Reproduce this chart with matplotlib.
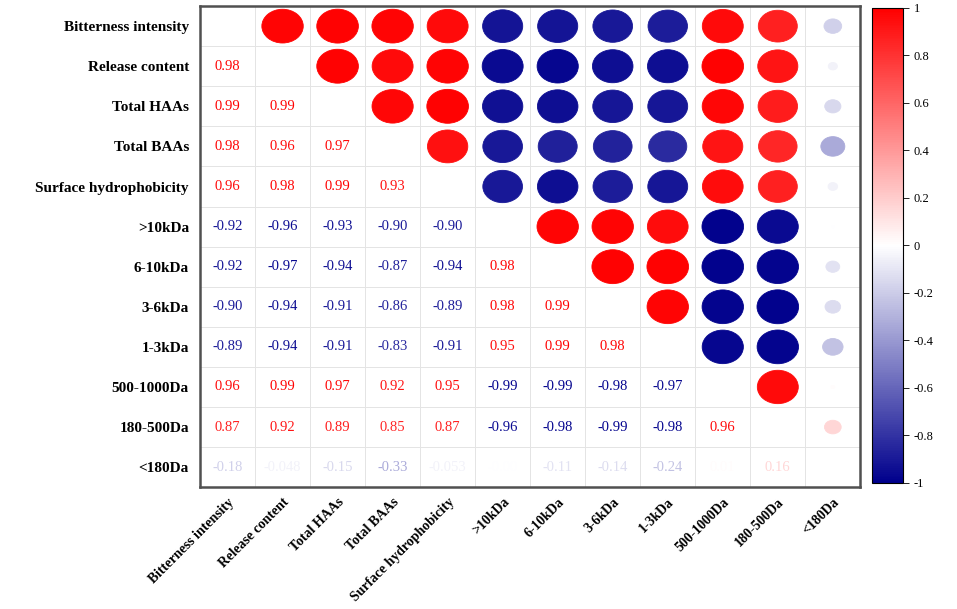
import numpy as np
import matplotlib.pyplot as plt
from matplotlib.colors import LinearSegmentedColormap, Normalize
from matplotlib.patches import Ellipse
from matplotlib.colorbar import ColorbarBase

plt.rcParams['font.family'] = ['Liberation Serif', 'DejaVu Serif']

labels = ['Bitterness intensity', 'Release content', 'Total HAAs', 'Total BAAs',
          'Surface hydrophobicity', '>10kDa', '6-10kDa', '3-6kDa', '1-3kDa',
          '500-1000Da', '180-500Da', '<180Da']

# lower triangle of the correlation matrix, row by row
lower = [
    [],
    [0.98],
    [0.99, 0.99],
    [0.98, 0.96, 0.97],
    [0.96, 0.98, 0.99, 0.93],
    [-0.92, -0.96, -0.93, -0.90, -0.90],
    [-0.92, -0.97, -0.94, -0.87, -0.94, 0.98],
    [-0.90, -0.94, -0.91, -0.86, -0.89, 0.98, 0.99],
    [-0.89, -0.94, -0.91, -0.83, -0.91, 0.95, 0.99, 0.98],
    [0.96, 0.99, 0.97, 0.92, 0.95, -0.99, -0.99, -0.98, -0.97],
    [0.87, 0.92, 0.89, 0.85, 0.87, -0.96, -0.98, -0.99, -0.98, 0.96],
    [-0.18, -0.048, -0.15, -0.33, -0.053, -0.004, -0.11, -0.14, -0.24, 0.008, 0.16],
]

n = len(labels)
corr = np.eye(n)
for i, row in enumerate(lower):
    for j, v in enumerate(row):
        corr[i, j] = v
        corr[j, i] = v

cmap = LinearSegmentedColormap.from_list('bwr2', ['#00008c', '#ffffff', '#ff0000'])
norm = Normalize(-1, 1)

fig = plt.figure(figsize=(9.57, 6.09), dpi=100)
ax = fig.add_axes([0.209, 0.200, 0.690, 0.790])

for i in range(n):
    for j in range(n):
        if i == j:
            continue
        r = corr[i, j]
        c = cmap(norm(r))
        if j > i:
            s = np.sqrt(abs(r))
            e = Ellipse((j, i), width=0.76 * s, height=0.85 * s,
                        facecolor=c, edgecolor=c, lw=0.6)
            ax.add_patch(e)
        else:
            txt = f'{r:.3f}' if 0.01 <= abs(r) < 0.06 else f'{r:.2f}'
            ax.text(j, i, txt, ha='center', va='center', fontsize=10.5, color=c)

for k in range(n + 1):
    ax.axhline(k - 0.5, color='#e4e4e4', lw=0.7, zorder=0)
    ax.axvline(k - 0.5, color='#e4e4e4', lw=0.7, zorder=0)

ax.set_xlim(-0.5, n - 0.5)
ax.set_ylim(n - 0.5, -0.5)
ax.set_xticks(range(n))
ax.set_yticks(range(n))
ax.set_xticklabels(labels, rotation=45, ha='right', rotation_mode='anchor',
                   fontsize=10, fontweight='bold')
ax.set_yticklabels(labels, fontsize=11, fontweight='bold')
ax.tick_params(axis='y', length=0, pad=8)
ax.tick_params(axis='x', length=0, pad=6)
for sp in ax.spines.values():
    sp.set_linewidth(1.8)
    sp.set_color('#505050')

cax = fig.add_axes([0.911, 0.207, 0.033, 0.780])
cb = ColorbarBase(cax, cmap=cmap, norm=norm)
cb.set_ticks(np.round(np.arange(-1, 1.01, 0.2), 1))
cb.set_ticklabels(['-1', '-0.8', '-0.6', '-0.4', '-0.2', '0',
                   '0.2', '0.4', '0.6', '0.8', '1'])
cax.tick_params(labelsize=9, length=4, width=0.6)
cb.outline.set_linewidth(0.8)

fig.savefig('out.png', dpi=100)
